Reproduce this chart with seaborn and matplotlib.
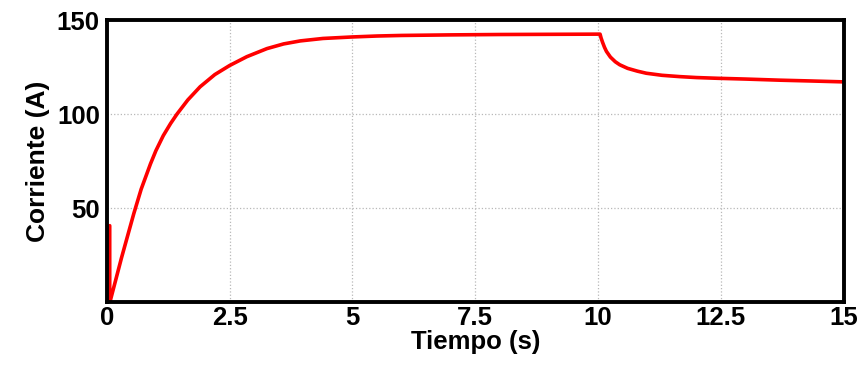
import pandas as pd
import matplotlib.pyplot as plt
import seaborn as sns

# Valores
tiempo = [0.06, 0.06, 0.075, 0.3, 0.55, 0.7, 0.89, 1.0, 1.15, 1.3, 1.43, 1.65,
          1.9, 2.2, 2.5, 2.85, 3.26, 3.6, 3.94, 4.4, 5.0, 5.5, 6.0, 7.0, 8.0,
          9.0, 10.04,
          10.06, 10.09, 10.13, 10.17, 10.25, 10.35, 10.44, 10.6, 10.8, 10.98,
          11.3, 11.66, 12.0, 12.44, 13.0, 13.7, 14.3, 15.0]
corriente = [40.6, 0.5, 1.0, 23.5, 47.0, 60.0, 73.5, 80.5, 88.5, 95.0, 100.0, 107.5,
             114.5, 121.0, 125.8, 130.5, 134.8, 137.3, 138.9, 140.2, 141.0, 141.5, 141.8, 142.1, 142.3,
             142.4, 142.5,
             140.5, 138.2, 135.5, 133.3, 130.3, 127.8, 126.2, 124.3, 122.8, 121.7,
             120.6, 119.9, 119.4, 119.0, 118.6, 118.0, 117.6, 117.1]

xticks = [0, 2.5, 5, 7.5, 10, 12.5, 15]
xtick_labels = ["0", "2.5", "5", "7.5", "10", "12.5", "15"]
yticks = [50, 100, 150]

df = pd.DataFrame({"Tiempo": tiempo, "Corriente": corriente})

sns.set_style("white")
plt.rcParams["font.family"] = ["Liberation Sans", "DejaVu Sans"]

fig = plt.figure(figsize=(8.61, 3.71), dpi=100)
ax = fig.add_axes([0.124, 0.186, 0.856, 0.76])

sns.lineplot(data=df, x="Tiempo", y="Corriente", sort=False, estimator=None,
             color="#ff0000", linewidth=2.6, ax=ax)

ax.set_xlim(0, 15)
ax.set_ylim(0, 150)
ax.set_xticks(xticks)
ax.set_xticklabels(xtick_labels)
ax.set_yticks(yticks)
ax.grid(True, linestyle=":", color="#b8b8b8", linewidth=0.9)
ax.tick_params(length=0, labelsize=18.5, labelcolor="black")
ax.tick_params(axis="x", pad=3)
ax.tick_params(axis="y", pad=5)
for lab in ax.get_xticklabels() + ax.get_yticklabels():
    lab.set_fontweight("bold")

for s in ax.spines.values():
    s.set_linewidth(2.8)
    s.set_color("black")

ax.set_xlabel("Tiempo (s)", fontsize=18.5, fontweight="bold", color="black", labelpad=0)
ax.set_ylabel("Corriente (A)", fontsize=19, fontweight="bold", color="black", labelpad=5)

fig.savefig("out.png", dpi=100)
